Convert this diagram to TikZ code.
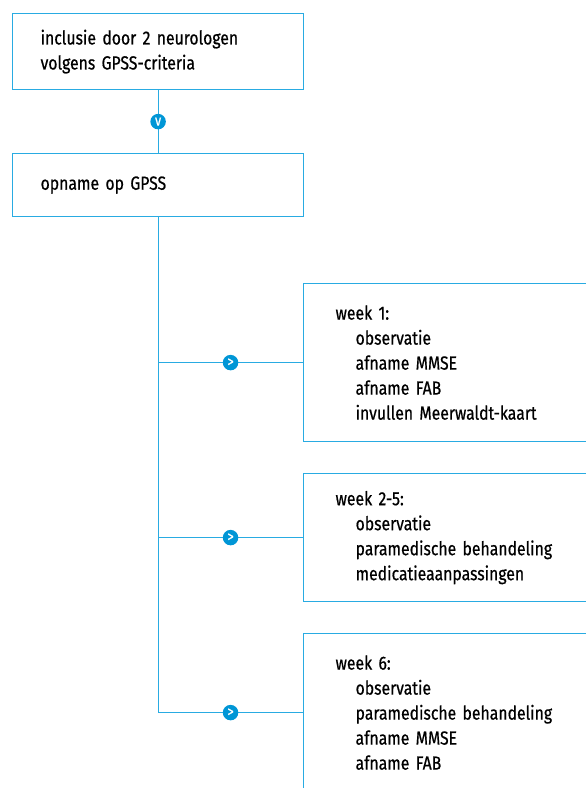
\documentclass[tikz,border=0pt]{standalone}
\usepackage{fontspec}
\setmainfont{Fira Sans}[FakeStretch=0.83, FakeBold=0.6]
\usetikzlibrary{positioning}
\definecolor{gpsslijn}{RGB}{41,171,226}
\definecolor{gpssknop}{RGB}{0,150,214}
\newcommand{\inspr}{\hspace*{20pt}}

\begin{document}
\begin{tikzpicture}[x=1pt,y=-1pt,
  box/.style={draw=gpsslijn, line width=1.2pt, align=left, anchor=north west,
    inner ysep=0pt, font=\fontsize{19}{25}\selectfont},
  links/.style={box, inner xsep=28pt, text width=235pt},
  rechts/.style={box, inner xsep=32pt, text width=236pt},
  lijn/.style={gpsslijn, line width=1.2pt},
  knop/.style={circle, fill=gpssknop, text=white, inner sep=0pt,
    minimum size=15.5pt, font=\fontsize{15}{15}\selectfont}]
\clip (0,0) rectangle (586,788);

\node[links, minimum height=76pt] (inclusie) at (12,13)
  {inclusie door 2 neurologen\\volgens GPSS-criteria};
\node[links, minimum height=63pt] (opname) at (12,153)
  {opname op GPSS};

\node[rechts, minimum height=158pt] (week1) at (303,283)
  {week 1:\\\inspr observatie\\\inspr afname MMSE\\\inspr afname FAB\\\inspr invullen Meerwaldt-kaart};
\node[rechts, minimum height=128pt] (week2) at (303,473)
  {week 2-5:\\\inspr observatie\\\inspr paramedische behandeling\\\inspr medicatieaanpassingen};
\node[rechts, minimum height=158pt] (week6) at (303,633)
  {week 6:\\\inspr observatie\\\inspr paramedische behandeling\\\inspr afname MMSE\\\inspr afname FAB};

% verbindingen
\draw[lijn] (inclusie) -- node[knop]{v} (opname);
\coordinate (onder) at (opname.south |- week6.west);
\draw[lijn] (opname) -- (onder);

\draw[lijn] (opname.south |- week1.west) -- node[knop]{>} (week1.west);
\draw[lijn] (opname.south |- week2.west) -- node[knop]{>} (week2.west);
\draw[lijn] (onder) -- node[knop]{>} (week6.west);
\end{tikzpicture}
\end{document}
